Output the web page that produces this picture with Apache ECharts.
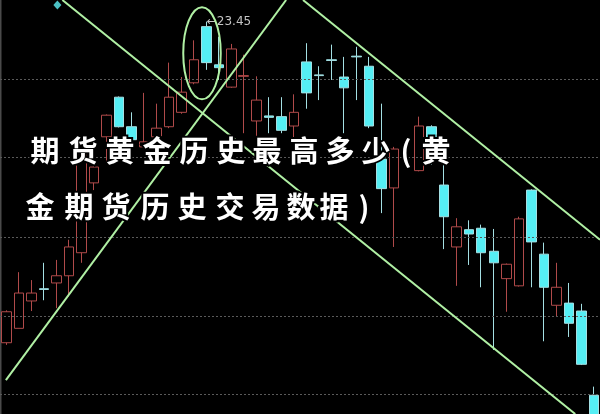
<!DOCTYPE html>
<html><head><meta charset="utf-8">
<script src="https://cdn.jsdelivr.net/npm/echarts@6/dist/echarts.min.js"></script>
<style>html,body{margin:0;padding:0;background:#000;overflow:hidden}#c{width:600px;height:414px}</style>
</head><body><div id="c"></div>
<script>
// ---- data ----
const categories = ['1','2','3','4','5','6','7','8','9','10','11','12','13','14','15','16','17','18','19','20','21','22','23','24','25','26','27','28','29','30','31','32','33','34','35','36','37','38','39','40','41','42','43','44','45','46','47','48'];
const opens  = [18.99,19.19,19.57,19.74,19.82,19.92,20.24,21.21,21.85,22.40, 21.99,21.71,21.85,21.99,22.19,22.60,23.38,22.85,22.54,22.69, 22.07,22.14,22.13,22.00,22.89,22.71,22.92,22.68,22.97,22.83, 21.54,21.14,'-',21.38,21.99,21.18,20.32,20.56,20.58,20.26, 19.88,19.78,21.11,20.22,19.51,19.54,19.43,18.26];
const closes = [19.42,19.68,19.68,19.73,19.92,20.32,21.61,21.43,22.15,21.99, 21.81,21.78,21.97,22.40,22.47,22.92,22.88,22.81,23.07,22.70, 22.36,22.12,21.94,22.19,22.46,22.70,22.91,22.53,22.96,22.00, 21.13,21.68,'-',22.00,21.81,20.74,20.60,20.50,20.24,20.10, 20.08,20.71,20.39,19.76,19.76,19.26,18.69,17.92];
const lows   = [18.96,19.19,19.43,19.58,19.47,19.63,20.10,21.11,21.49,21.98, 21.77,21.70,21.84,21.97,22.17,22.58,22.78,22.64,22.53,21.90, 21.71,21.90,21.90,21.83,22.24,22.36,22.64,21.90,22.36,21.97, 20.79,20.32,'-',21.37,21.46,20.29,19.78,20.07,19.76,18.89, 19.42,19.77,19.76,19.01,19.36,19.07,18.68,17.90];
const highs  = [19.44,19.97,19.86,20.10,20.14,20.42,21.62,21.64,22.16,22.41, 22.19,22.46,22.31,22.88,22.68,23.19,23.45,23.24,23.14,22.99, 22.69,22.40,22.40,22.44,23.15,22.83,23.13,22.96,23.10,22.96, 22.31,21.71,'-',22.13,22.01,21.49,20.72,20.69,20.63,20.57, 20.09,20.74,21.12,20.38,20.10,19.82,19.53,18.38];
const gridValues = [22.65, 21.56, 20.46, 19.36, 18.28];
const peakIndex = 16;
const peakValue = 23.45;
const peakLabel = '←23.45';
// trend lines in data space [index, price]
const trendLine1 = [[4.49, 23.75], [45.52, 18.0]];
const trendLine2 = [[-0.03, 18.47], [22.39, 23.75]];
const trendLine3 = [[23.74, 23.75], [47.5, 20.42]];
const markerPoint = [[4.09, 23.68]];
const ellipseCenter = [15.66, 23.01];
const ellipseRadius = [1.5, 0.64]; // in index units, price units
const titleLine1 = ['期','货','黄','金','历','史','最','高','多','少','(','黄'];
const titleLine2 = ['金','期','货','历','史','交','易','数','据',')'];

// ---- layout ----
const line1X = [45,83,120,157,194,231,267,304,340,376,406,436];
const line2X = [40,79,116,155,192,230,266,301,334,364];
const line1Y = 151, line2Y = 207;

const chart = echarts.init(document.getElementById('c'), null, {renderer:'canvas'});
const kData = categories.map((c,i)=>[opens[i],closes[i],lows[i],highs[i]]);
const trendStyle = {color:'#b0f0a4', width:2};

function charEls(chars, xs, y){
  return chars.map((ch,k)=>({
    type:'text', z:100, silent:true,
    style:{text:ch, x:xs[k], y:y, fill:'#ffffff', stroke:'#000000', lineWidth:4,
      font:'bold 29px "Noto Sans CJK SC"', align:'center', verticalAlign:'middle'}
  }));
}

chart.setOption({
  backgroundColor:'#000000',
  animation:false,
  grid:{left:-6, right:0, top:0, bottom:0},
  xAxis:[
    {type:'category', data:categories, show:false, boundaryGap:true},
    {type:'value', min:-0.5, max:47.5, show:false}
  ],
  yAxis:{type:'value', min:18.0, max:23.75, show:false, splitLine:{show:false}},
  series:[
    {
      type:'candlestick', xAxisIndex:0, yAxisIndex:0, data:kData, barWidth:10, clip:true,
      itemStyle:{color:'#000000', borderColor:'#b04a4a', color0:'#55eef4', borderColor0:'#a4dfe3', borderWidth:1},
      markLine:{silent:true, symbol:'none', label:{show:false},
        lineStyle:{color:'#5a5a5a', type:[2,2], width:1},
        data:gridValues.map(v=>({yAxis:v}))},
      markPoint:{silent:true, data:[{coord:[peakIndex, peakValue], symbol:'circle', symbolSize:1,
        itemStyle:{color:'rgba(0,0,0,0)'},
        label:{show:true, position:'right', distance:0, formatter:peakLabel, color:'#c4c4c4', fontSize:12, fontFamily:'DejaVu Sans'}}]}
    },
    {type:'line', xAxisIndex:1, yAxisIndex:0, data:trendLine1, symbol:'none', lineStyle:trendStyle, z:5},
    {type:'line', xAxisIndex:1, yAxisIndex:0, data:trendLine2, symbol:'none', lineStyle:trendStyle, z:5},
    {type:'line', xAxisIndex:1, yAxisIndex:0, data:trendLine3, symbol:'none', lineStyle:trendStyle, z:5},
    {type:'scatter', xAxisIndex:1, yAxisIndex:0, data:markerPoint, symbol:'diamond', symbolSize:[8,9], itemStyle:{color:'#5ef0f5'}}
  ],
  graphic:[
    {type:'rect', shape:{x:0,y:0,width:1.5,height:414}, style:{fill:'#4a4a4a'}, silent:true}
  ].concat(charEls(titleLine1, line1X, line1Y), charEls(titleLine2, line2X, line2Y))
});

const c0 = chart.convertToPixel({seriesIndex:1}, ellipseCenter);
const c1 = chart.convertToPixel({seriesIndex:1}, [ellipseCenter[0]+ellipseRadius[0], ellipseCenter[1]+ellipseRadius[1]]);
chart.setOption({graphic:[
  {type:'rect', shape:{x:0,y:0,width:1.5,height:414}, style:{fill:'#4a4a4a'}, silent:true}
].concat(charEls(titleLine1, line1X, line1Y), charEls(titleLine2, line2X, line2Y), [
  {type:'ellipse', z:50, silent:true, shape:{cx:c0[0], cy:c0[1], rx:Math.abs(c1[0]-c0[0]), ry:Math.abs(c0[1]-c1[1])},
   style:{fill:'none', stroke:'#b0f0a4', lineWidth:2}}
])});
</script>
</body></html>
